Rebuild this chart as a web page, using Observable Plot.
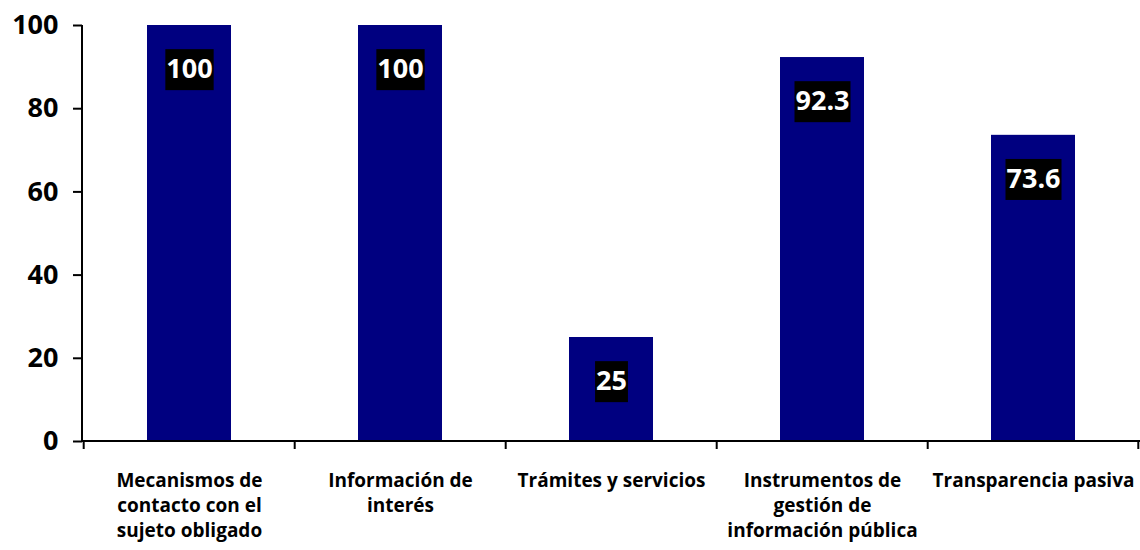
<!DOCTYPE html>
<html><head><meta charset="utf-8">
<script src="https://cdn.jsdelivr.net/npm/d3@7"></script>
<script src="https://cdn.jsdelivr.net/npm/@observablehq/plot@0.6"></script>
<style>body{margin:0;background:#fff} svg{display:block}</style>
</head><body><div id="chart"></div>
<script>
const categories = ["Mecanismos de contacto con el sujeto obligado", "Información de interés", "Trámites y servicios", "Instrumentos de gestión de información pública", "Transparencia pasiva"];
const labelLines = ["Mecanismos de\ncontacto con el\nsujeto obligado", "Información de\ninterés", "Trámites y servicios", "Instrumentos de\ngestión de\ninformación pública", "Transparencia pasiva"];
const values = [100, 100, 25, 92.3, 73.6];
const valueLabels = ["100", "100", "25", "92.3", "73.6"];
const yTicks = [0, 20, 40, 60, 80, 100];

const data = categories.map((c, i) => ({category: c, label: labelLines[i], value: values[i], text: valueLabels[i]}));

function axisLines(index, scales, vals, dims) {
  const x = scales.x, y = scales.y;
  const g = d3.create("svg:g").attr("stroke", "#000").attr("stroke-width", 2).attr("fill", "none");
  const left = dims.marginLeft, right = dims.width - dims.marginRight;
  const y0 = y(0), yTop = y(100);
  g.append("line").attr("x1", left).attr("x2", left).attr("y1", yTop).attr("y2", y0);
  g.append("line").attr("x1", left).attr("x2", right).attr("y1", y0).attr("y2", y0);
  const half = x.paddingInner() * x.step() / 2;
  const edges = categories.map(c => x(c) - half).concat([x(categories[categories.length - 1]) + x.bandwidth() + half]);
  for (const e of edges) g.append("line").attr("x1", e).attr("x2", e).attr("y1", y0).attr("y2", y0 + 8);
  return g.node();
}

const chart = Plot.plot({
  width: 1140,
  height: 550,
  marginLeft: 82,
  marginRight: 0,
  marginTop: 25,
  marginBottom: 109,
  style: {fontFamily: "'Open Sans', Lato, sans-serif", color: "#000", background: "#fff", overflow: "visible"},
  x: {domain: categories, paddingInner: 0.6, paddingOuter: 0.3, axis: null},
  y: {domain: [0, 100]},
  marks: [
    Plot.barY(data, {x: "category", y: "value", fill: "#000080"}),
    Plot.text(data, {x: "category", y: "value", text: "text", dy: 44, fill: "white", fontSize: 27, fontWeight: "bold", lineAnchor: "middle"}),
    axisLines,
    Plot.axisY({ticks: yTicks, tickSize: 9, tickPadding: 15, fontSize: 27, fontWeight: "bold", strokeWidth: 2, tickFormat: d => d, label: null}),
    Plot.text(data, {x: "category", text: "label", frameAnchor: "bottom", dy: 28, lineAnchor: "top", lineHeight: 1.32, fontSize: 19, fontWeight: "bold", fill: "#000"})
  ]
});
document.getElementById("chart").appendChild(chart);

// black boxes behind value labels
chart.querySelectorAll('g[aria-label="text"][fill="white"] text').forEach(t => {
  const b = t.getBBox();
  const r = document.createElementNS("http://www.w3.org/2000/svg", "rect");
  r.setAttribute("x", b.x - 1);
  r.setAttribute("y", b.y);
  r.setAttribute("width", b.width + 2);
  r.setAttribute("height", b.height + 4);
  r.setAttribute("fill", "#000");
  const tr = t.getAttribute("transform");
  if (tr) r.setAttribute("transform", tr);
  t.parentNode.insertBefore(r, t);
});
</script></body></html>
